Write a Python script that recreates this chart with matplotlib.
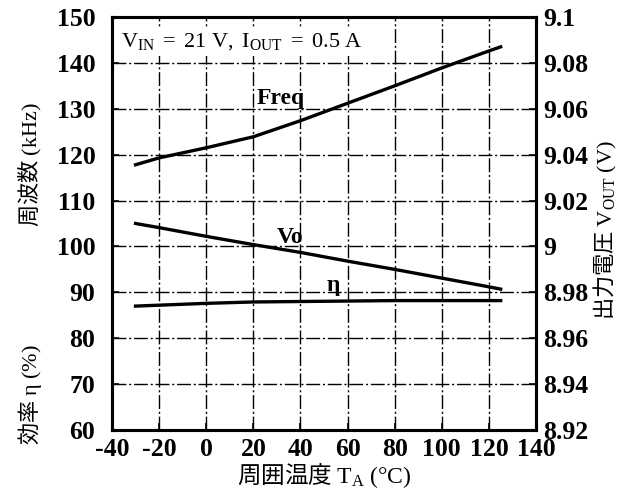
import matplotlib
matplotlib.use("Agg")
import matplotlib.pyplot as plt
from matplotlib.ticker import FuncFormatter
from matplotlib.font_manager import FontProperties

plt.rcParams['mathtext.fontset'] = 'custom'
plt.rcParams['mathtext.rm'] = 'Liberation Serif'
plt.rcParams['mathtext.it'] = 'Liberation Serif:italic'
plt.rcParams['mathtext.bf'] = 'Liberation Serif:bold'
plt.rcParams['axes.unicode_minus'] = False

# ---- data ----
temp = [-30, -20, 0, 20, 40, 60, 80, 100, 120, 125]
freq_khz = [117.8, 119.3, 121.5, 123.9, 127.4, 131.2, 135.0, 138.9, 142.6, 143.5]
eff_pct = [87.0, 87.2, 87.6, 87.9, 88.0, 88.1, 88.2, 88.2, 88.2, 88.2]
vout_v = [9.0100, 9.0082, 9.0044, 9.0008, 8.9974, 8.9936, 8.9900, 8.9862, 8.9824, 8.9814]

x_ticks = [-40, -20, 0, 20, 40, 60, 80, 100, 120, 140]
left_ticks = [60, 70, 80, 90, 100, 110, 120, 130, 140, 150]
right_ticks = [8.92, 8.94, 8.96, 8.98, 9.0, 9.02, 9.04, 9.06, 9.08, 9.1]

fig = plt.figure(figsize=(6.35, 4.97), dpi=100)
ax = fig.add_axes([112/635, 1-430/497, (536-112)/635, (430-17)/497])
ax2 = ax.twinx()

tickfp = FontProperties(family='Liberation Serif', weight='bold', size=18.5)

ax.set_xlim(-40, 140)
ax.set_ylim(60, 150)
ax2.set_ylim(8.92, 9.1)
ax.set_xticks(x_ticks)
ax.set_yticks(left_ticks)
ax2.set_yticks(right_ticks)
ax2.yaxis.set_major_formatter(FuncFormatter(lambda v, p: ('%.2f' % v).rstrip('0').rstrip('.')))

for lab in ax.get_xticklabels() + ax.get_yticklabels() + ax2.get_yticklabels():
    lab.set_fontproperties(tickfp)

ax.tick_params(axis='both', direction='in', length=5, width=1.2)
ax.tick_params(axis='x', pad=6)
ax.tick_params(axis='y', pad=12)
ax2.tick_params(axis='y', direction='in', length=5, width=1.2, pad=5)

for a in (ax, ax2):
    for s in a.spines.values():
        s.set_linewidth(2.2)
        s.set_color('black')

# grid
gls = (0, (10, 2, 1.5, 2))
for xv in x_ticks[1:-1]:
    ax.axvline(xv, color='black', lw=1.0, ls=gls, zorder=1)
for yv in left_ticks[1:-1]:
    ax.axhline(yv, color='black', lw=1.0, ls=gls, zorder=1)

ax.plot(temp, freq_khz, color='black', lw=2.4, zorder=3, solid_joinstyle='round')
ax.plot(temp, eff_pct, color='black', lw=2.4, zorder=3)
ax2.plot(temp, vout_v, color='black', lw=2.4, zorder=3, solid_joinstyle='round')

ax.text(31.5, 132.3, 'Freq', fontsize=17, family='Liberation Serif', weight='bold',
        ha='center', va='center', zorder=4)
ax.text(35.5, 102.0, 'Vo', fontsize=17, family='Liberation Serif', weight='bold',
        ha='center', va='center', zorder=4)
ax.text(54, 91.5, 'η', fontsize=17, family='Liberation Serif', weight='bold',
        ha='center', va='center', zorder=4)

ax.text(-36, 144.6, r'$\mathrm{V_{IN}\ =\ 21\ V,\ I_{OUT}\ =\ 0.5\ A}$', fontsize=16,
        ha='left', va='center', zorder=5,
        bbox=dict(facecolor='white', edgecolor='none', pad=3))

ax.set_xlabel(r'周囲温度 $\mathrm{T_A\ (°C)}$', fontsize=17, family='Noto Sans CJK JP',
              labelpad=0)
fig.text(30/635, 1-165/497, r'周波数 $\mathrm{(kHz)}$', rotation=90, fontsize=16,
         family='Noto Sans CJK JP', ha='center', va='center')
fig.text(30/635, 1-395/497, r'効率 $\mathrm{\eta\ (\%)}$', rotation=90, fontsize=16,
         family='Noto Sans CJK JP', ha='center', va='center')
fig.text(605/635, 1-230/497, r'出力電圧 $\mathrm{V_{OUT}\ (V)}$', rotation=90, fontsize=16,
         family='Noto Sans CJK JP', ha='center', va='center')

fig.savefig('out.png', dpi=100)
